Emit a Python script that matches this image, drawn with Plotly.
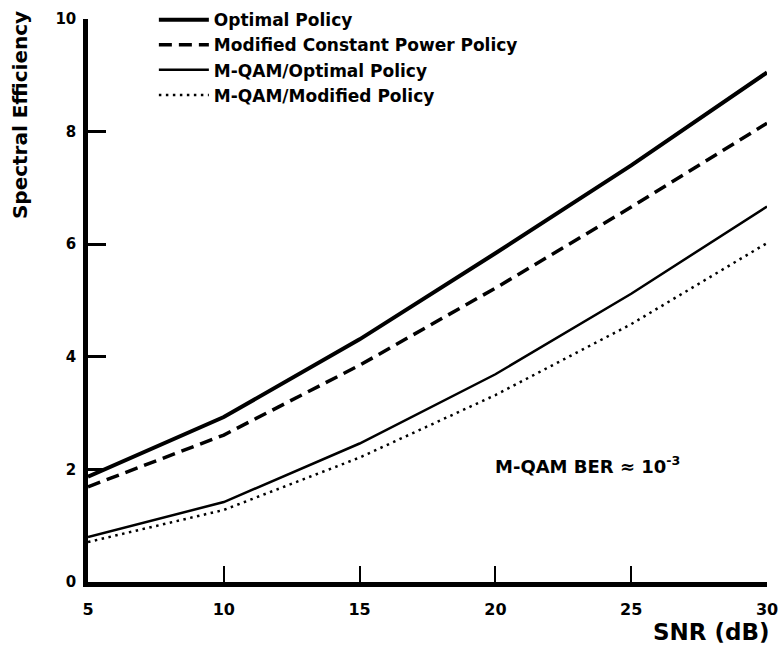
import plotly.graph_objects as go

snr = [5, 10, 15, 20, 25, 30]
optimal = [1.87, 2.93, 4.31, 5.84, 7.40, 9.05]
modified_const = [1.69, 2.61, 3.85, 5.22, 6.66, 8.15]
mqam_optimal = [0.80, 1.42, 2.46, 3.69, 5.12, 6.67]
mqam_modified = [0.71, 1.28, 2.21, 3.32, 4.58, 6.02]

x_ticks = [5, 10, 15, 20, 25, 30]
y_ticks = [0, 2, 4, 6, 8, 10]

FONT = "DejaVu Sans, Verdana, sans-serif"

fig = go.Figure()
fig.add_trace(go.Scatter(x=snr, y=optimal, mode="lines", name="Optimal Policy",
                         line=dict(color="black", width=4)))
fig.add_trace(go.Scatter(x=snr, y=modified_const, mode="lines", name="Modified Constant Power Policy",
                         line=dict(color="black", width=3.5, dash="13px,7px")))
fig.add_trace(go.Scatter(x=snr, y=mqam_optimal, mode="lines", name="M-QAM/Optimal Policy",
                         line=dict(color="black", width=2.5)))
fig.add_trace(go.Scatter(x=snr, y=mqam_modified, mode="lines", name="M-QAM/Modified Policy",
                         line=dict(color="black", width=2.5, dash="2.5px,4.5px")))

fig.update_layout(
    width=778, height=651,
    margin=dict(l=88, r=11, t=19, b=69, autoexpand=False),
    paper_bgcolor="white", plot_bgcolor="white",
    font=dict(family=FONT, color="black"),
    showlegend=True,
    legend=dict(x=0.097, y=1.03, xanchor="left", yanchor="top",
                font=dict(size=17, family=FONT, color="black", weight="bold"),
                bgcolor="rgba(0,0,0,0)", tracegroupgap=0,
                itemwidth=50),
    xaxis=dict(range=[5, 30], tickvals=x_ticks, ticktext=[str(v) for v in x_ticks],
               showgrid=False, zeroline=False, showline=True, linecolor="black", linewidth=4.5,
               ticks="inside", ticklen=16, tickwidth=2, tickcolor="black",
               ticklabelstandoff=9, ticklabeloverflow="allow",
               tickfont=dict(size=16, family=FONT, color="black", weight="bold")),
    yaxis=dict(range=[0, 10], tickvals=y_ticks, ticktext=[str(v) for v in y_ticks],
               showgrid=False, zeroline=False, showline=True, linecolor="black", linewidth=4.5,
               ticks="inside", ticklen=18, tickwidth=2.5, tickcolor="black",
               ticklabelstandoff=4, ticklabeloverflow="allow",
               tickfont=dict(size=15, family=FONT, color="black", weight="bold")),
    annotations=[
        dict(text="Spectral Efficiency", xref="paper", yref="paper", x=-0.100, y=0.8295,
             textangle=-90, showarrow=False, xanchor="center", yanchor="middle",
             font=dict(size=20, family=FONT, color="black", weight="bold")),
        dict(text="SNR (dB)", xref="paper", yref="paper", x=0.918, y=-0.089,
             showarrow=False, xanchor="center", yanchor="middle",
             font=dict(size=23, family=FONT, color="black", weight="bold")),
        dict(text="M-QAM BER ≈ 10<sup>-3</sup>", xref="x", yref="y", x=23.4, y=2.08,
             showarrow=False, xanchor="center", yanchor="middle",
             font=dict(size=18, family=FONT, color="black", weight="bold")),
    ],
)

fig.write_html("out.html")
